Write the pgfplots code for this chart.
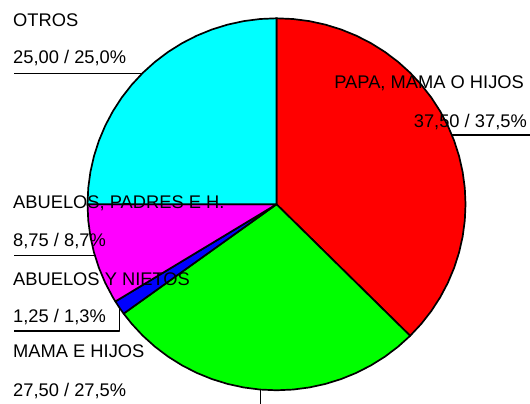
\documentclass[border=0pt]{standalone}
\usepackage{pgfplots}
\pgfplotsset{compat=1.18}
\usepackage{fontspec}
\setmainfont{Liberation Sans}
\definecolor{pred}{RGB}{255,0,0}
\definecolor{pgreen}{RGB}{0,255,0}
\definecolor{pblue}{RGB}{0,0,255}
\definecolor{pmagenta}{RGB}{255,0,255}
\definecolor{pcyan}{RGB}{0,255,255}
\begin{document}
\begin{tikzpicture}
\begin{axis}[
  scale only axis, width=530pt, height=404pt,
  xmin=-273.6, xmax=250.8, ymin=-200.8, ymax=205.4,
  hide axis, clip=false,
  every axis plot/.append style={line join=round},
]
% sectors: (angle, radius) in polar data coordinates, share 37.5/27.5/1.25/8.75/25
\addplot[data cs=polar, draw=black, line width=1.7pt, fill=pred] coordinates {
 (0,0) (90,187) (85,187) (80,187) (75,187) (70,187) (65,187) (60,187) (55,187) (50,187)
 (45,187) (40,187) (35,187) (30,187) (25,187) (20,187) (15,187) (10,187) (5,187) (0,187)
 (-5,187) (-10,187) (-15,187) (-20,187) (-25,187) (-30,187) (-35,187) (-40,187) (-45,187)
} -- cycle;
\addplot[data cs=polar, draw=black, line width=1.7pt, fill=pgreen] coordinates {
 (0,0) (-45,187) (-50,187) (-55,187) (-60,187) (-65,187) (-70,187) (-75,187) (-80,187)
 (-85,187) (-90,187) (-95,187) (-100,187) (-105,187) (-110,187) (-115,187) (-120,187)
 (-125,187) (-130,187) (-135,187) (-140,187) (-144,187)
} -- cycle;
\addplot[data cs=polar, draw=black, line width=1.7pt, fill=pblue] coordinates {
 (0,0) (-144,187) (-146,187) (-148.5,187)
} -- cycle;
\addplot[data cs=polar, draw=black, line width=1.7pt, fill=pmagenta] coordinates {
 (0,0) (-148.5,187) (-150,187) (-155,187) (-160,187) (-165,187) (-170,187) (-175,187) (-180,187)
} -- cycle;
\addplot[data cs=polar, draw=black, line width=1.7pt, fill=pcyan] coordinates {
 (0,0) (180,187) (175,187) (170,187) (165,187) (160,187) (155,187) (150,187) (145,187)
 (140,187) (135,187) (130,187) (125,187) (120,187) (115,187) (110,187) (105,187) (100,187)
 (95,187) (90,187)
} -- cycle;
% leader lines
\addplot[black, line width=1.1pt] coordinates {(-259.7,131.5) (-133,131.5)};
\addplot[black, line width=1.1pt] coordinates {(174,69.7) (250.8,69.7)};
\addplot[black, line width=1.1pt] coordinates {(-259.7,-51.5) (-179.8,-51.5)};
\addplot[black, line width=1.1pt] coordinates {(-259.7,-127.4) (-155.8,-127.4) (-155.8,-103.4)};
\addplot[black, line width=1.1pt] coordinates {(-16.3,-186.3) (-16.3,-200.8)};
% labels
\begin{scope}[every node/.style={inner sep=0pt, font=\fontsize{18.3}{20}\selectfont}]
\node[anchor=base west] at (axis cs:-260.7,178.25) {OTROS};
\node[anchor=base west] at (axis cs:-260.7,141.05) {25,00 / 25,0\%};
\node[anchor=base east] at (axis cs:244.9,116.9) {PAPA, MAMA O HIJOS};
\node[anchor=base east] at (axis cs:247.85,76.7) {37,50 / 37,5\%};
\node[anchor=base west] at (axis cs:-260.7,-4.73) {ABUELOS, PADRES E H.};
\node[anchor=base west] at (axis cs:-260.7,-42.93) {8,75 / 8,7\%};
\node[anchor=base west] at (axis cs:-260.7,-82.14) {ABUELOS Y NIETOS};
\node[anchor=base west] at (axis cs:-260.7,-119.34) {1,25 / 1,3\%};
\node[anchor=base west] at (axis cs:-260.7,-154.53) {MAMA E HIJOS};
\node[anchor=base west] at (axis cs:-260.7,-193.74) {27,50 / 27,5\%};
\end{scope}
\end{axis}
\pgfresetboundingbox
\path[use as bounding box] (0,0) rectangle (530pt,404pt);
\end{tikzpicture}
\end{document}
